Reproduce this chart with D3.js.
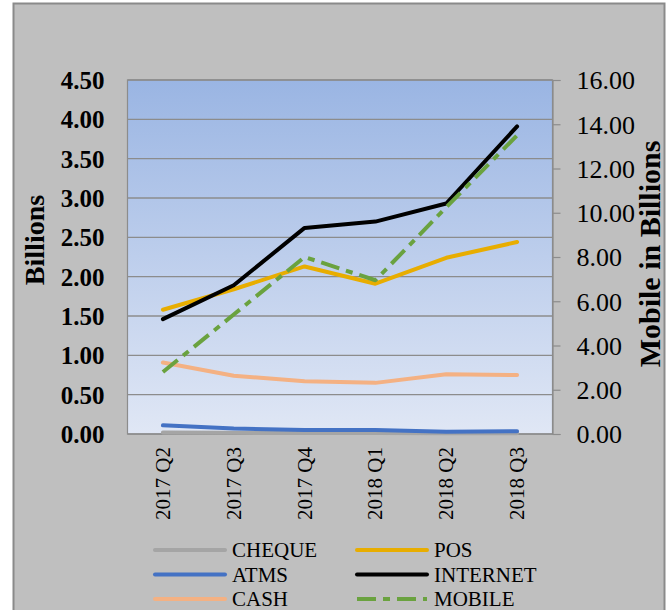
<!DOCTYPE html>
<html>
<head>
<meta charset="utf-8">
<script src="https://cdn.jsdelivr.net/npm/d3@7"></script>
<style>
  html, body { margin: 0; padding: 0; background: #ffffff; }
  svg { display: block; }
  text { font-family: "Liberation Serif", "Times New Roman", serif; fill: #000; }
</style>
</head>
<body>
<svg id="chart" width="669" height="610"></svg>
<script>
// Quarterly payment channel volumes (billions)
const quarters = ["2017 Q2", "2017 Q3", "2017 Q4", "2018 Q1", "2018 Q2", "2018 Q3"];
const cheque   = [0.02, 0.015, 0.012, 0.012, 0.01, 0.01];
const atms     = [0.11, 0.07, 0.05, 0.05, 0.03, 0.035];
const cash     = [0.91, 0.74, 0.67, 0.65, 0.76, 0.75];
const pos      = [1.58, 1.84, 2.13, 1.91, 2.24, 2.44];
const internet = [1.46, 1.89, 2.62, 2.70, 2.93, 3.91];
// Mobile is plotted against the secondary axis
const mobile   = [2.80, 5.40, 8.00, 6.95, 10.25, 13.50];

const leftTicks  = [0, 0.5, 1, 1.5, 2, 2.5, 3, 3.5, 4, 4.5];
const rightTicks = [0, 2, 4, 6, 8, 10, 12, 14, 16];

const seriesDefs = [
  { name: "CHEQUE",   values: cheque,   color: "#a5a5a5", axis: "left" },
  { name: "ATMS",     values: atms,     color: "#4472c4", axis: "left" },
  { name: "CASH",     values: cash,     color: "#f4b183", axis: "left" },
  { name: "POS",      values: pos,      color: "#e8ad00", axis: "left" },
  { name: "INTERNET", values: internet, color: "#000000", axis: "left" },
  { name: "MOBILE",   values: mobile,   color: "#6aa23f", axis: "right", dash: "19,7,7,7" }
];

const svg = d3.select("#chart");

// outer chart frame
svg.append("rect")
  .attr("x", 13.5).attr("y", 3.5)
  .attr("width", 651).attr("height", 620)
  .attr("fill", "#bfbfbf")
  .attr("stroke", "#8a8a8a").attr("stroke-width", 2);

const plot = { left: 127.5, right: 552.5, top: 80, bottom: 434 };

const x = d3.scaleBand().domain(quarters).range([plot.left, plot.right]).padding(0);
const yL = d3.scaleLinear().domain([0, 4.5]).range([plot.bottom, plot.top]);
const yR = d3.scaleLinear().domain([0, 16]).range([plot.bottom, plot.top]);

// plot area gradient background
const defs = svg.append("defs");
const grad = defs.append("linearGradient")
  .attr("id", "plotFill").attr("x1", 0).attr("y1", 0).attr("x2", 0).attr("y2", 1);
grad.append("stop").attr("offset", "0%").attr("stop-color", "#9ab5e3");
grad.append("stop").attr("offset", "100%").attr("stop-color", "#e0e7f5");

svg.append("rect")
  .attr("x", plot.left).attr("y", plot.top)
  .attr("width", plot.right - plot.left).attr("height", plot.bottom - plot.top)
  .attr("fill", "url(#plotFill)");

// horizontal gridlines from the primary axis
svg.append("g")
  .selectAll("line")
  .data(leftTicks)
  .join("line")
  .attr("x1", plot.left).attr("x2", plot.right)
  .attr("y1", d => yL(d)).attr("y2", d => yL(d))
  .attr("stroke", "#8c8c8c").attr("stroke-width", 1.4);

// plot border
svg.append("rect")
  .attr("x", plot.left).attr("y", plot.top)
  .attr("width", plot.right - plot.left).attr("height", plot.bottom - plot.top)
  .attr("fill", "none").attr("stroke", "#8c8c8c").attr("stroke-width", 1.2);

// primary axis (left)
const leftAxis = d3.axisLeft(yL).tickValues(leftTicks).tickFormat(d3.format(".2f")).tickSize(0).tickPadding(23);
const gL = svg.append("g").attr("transform", `translate(${plot.left},0)`).call(leftAxis);
gL.select(".domain").remove();
gL.selectAll("text")
  .style("font-family", "'Liberation Serif', serif")
  .style("font-size", "25px").style("font-weight", "bold")
  .attr("dy", "0.34em");

// secondary axis (right)
const rightAxis = d3.axisRight(yR).tickValues(rightTicks).tickFormat(d3.format(".2f")).tickSize(8).tickPadding(16);
const gR = svg.append("g").attr("transform", `translate(${plot.right},0)`).call(rightAxis);
gR.select(".domain").attr("stroke", "#8c8c8c").attr("stroke-width", 1.2);
gR.selectAll(".tick line").attr("stroke", "#8c8c8c").attr("stroke-width", 1.2);
gR.selectAll("text")
  .style("font-family", "'Liberation Serif', serif")
  .style("font-size", "26px")
  .attr("dy", "0.34em");

// category labels, rotated
const gX = svg.append("g");
gX.selectAll("text")
  .data(quarters)
  .join("text")
  .attr("transform", d => `translate(${x(d) + x.bandwidth() / 2 + 7},447) rotate(-90)`)
  .attr("text-anchor", "end")
  .style("font-size", "21px")
  .text(d => d);

// axis titles
svg.append("text")
  .attr("transform", "translate(44,240) rotate(-90)")
  .attr("text-anchor", "middle")
  .style("font-size", "28px").style("font-weight", "bold")
  .text("Billions");

svg.append("text")
  .attr("transform", "translate(660,254) rotate(-90)")
  .attr("text-anchor", "middle")
  .style("font-size", "30px").style("font-weight", "bold")
  .text("Mobile in Billions");

// series lines
const linesG = svg.append("g");
seriesDefs.forEach(s => {
  const yScale = s.axis === "left" ? yL : yR;
  const line = d3.line()
    .x((d, i) => x(quarters[i]) + x.bandwidth() / 2)
    .y(d => yScale(d));
  linesG.append("path")
    .datum(s.values)
    .attr("d", line)
    .attr("fill", "none")
    .attr("stroke", s.color)
    .attr("stroke-width", 4)
    .attr("stroke-linejoin", "round")
    .attr("stroke-linecap", s.dash ? "butt" : "round")
    .attr("stroke-dasharray", s.dash || null);
});

// legend: two columns of three rows
const legendOrder = ["CHEQUE", "POS", "ATMS", "INTERNET", "CASH", "MOBILE"];
const legendCols = [155, 357];
const legendRows = [550, 574.5, 599];
const legend = svg.append("g");
legendOrder.forEach((name, k) => {
  const s = seriesDefs.find(d => d.name === name);
  const cx = legendCols[k % 2];
  const cy = legendRows[Math.floor(k / 2)];
  legend.append("line")
    .attr("x1", cx).attr("x2", cx + 70)
    .attr("y1", cy).attr("y2", cy)
    .attr("stroke", s.color).attr("stroke-width", 4)
    .attr("stroke-linecap", s.dash ? "butt" : "round")
    .attr("stroke-dasharray", s.dash || null);
  legend.append("text")
    .attr("x", cx + 77).attr("y", cy + 7)
    .style("font-size", "21px")
    .text(name);
});
</script>
</body>
</html>
